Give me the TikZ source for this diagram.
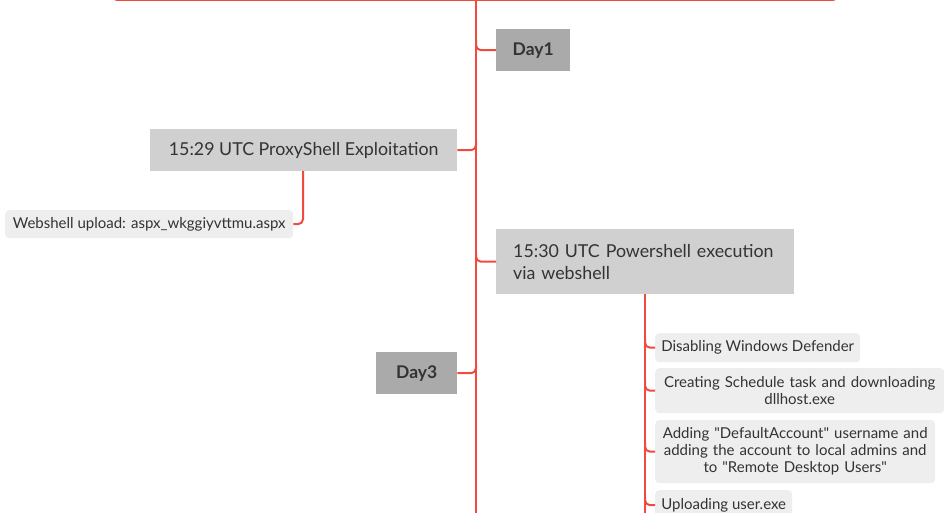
\documentclass[tikz,border=0pt]{standalone}
\usetikzlibrary{calc}
\usepackage{fontspec}
\setmainfont{Lato}[Ligatures=TeXOff]
\definecolor{branch}{HTML}{F04B3C}
\definecolor{dayfill}{HTML}{AAAAAA}
\definecolor{mainfill}{HTML}{D0D0D0}
\definecolor{leaffill}{HTML}{EEEEEE}
\definecolor{txt}{HTML}{333333}
\tikzset{
  conn/.style={draw=branch, line width=2pt, rounded corners=5pt},
  daybox/.style={fill=dayfill, anchor=north west, inner sep=0pt, text=txt, font=\fontsize{17.5}{20}\selectfont\bfseries},
  mainbox/.style={fill=mainfill, anchor=north west, inner sep=0pt, text=txt, font=\fontsize{17.8}{22}\selectfont},
  leafbox/.style={fill=leaffill, rounded corners=4pt, anchor=north west, inner sep=0pt, text=txt, font=\fontsize{15}{17}\selectfont},
}
\begin{document}
\begin{tikzpicture}[x=1pt,y=-1pt]
\useasboundingbox (0,0) rectangle (944,513);
% root line and trunk
\coordinate (rootL) at (112,-12);
\coordinate (rootR) at (838,-12);
\coordinate (top) at (476,0);
\coordinate (bot) at (476,520);
\draw[conn] (rootL) |- (top) -| (rootR);
\draw[conn] (top) -- (bot);
% nodes
\node[daybox, minimum width=74pt, minimum height=42pt] (day1) at (496,29) {Day1};
\node[mainbox, minimum width=307pt, minimum height=42pt] (proxy) at (150,129) {15:29 UTC ProxyShell Exploitation};
\node[leafbox, minimum width=288pt, minimum height=28pt] (webshell) at (5,210) {Webshell upload: aspx\_wkggiyvttmu.aspx};
\node[mainbox, minimum width=298pt, minimum height=65pt, text width=264pt, align=left] (ps) at (496,229) {15:30 UTC Powershell execution\\via webshell};
\node[daybox, minimum width=81pt, minimum height=42pt] (day3) at (376,352) {Day3};
\node[leafbox, minimum width=205pt, minimum height=29pt] (l1) at (655,333) {Disabling Windows Defender};
\node[leafbox, minimum width=289pt, minimum height=45pt, text width=285pt, align=center] (l2) at (655,368) {Creating Schedule task and downloading\\dllhost.exe};
\node[leafbox, minimum width=280pt, minimum height=63pt, text width=276pt, align=center] (l3) at (655,420) {Adding "DefaultAccount" username and\\adding the account to local admins and\\to "Remote Desktop Users"};
\node[leafbox, minimum width=137pt, minimum height=30pt] (l4) at (655,490) {Uploading user.exe};
% connectors from trunk
\draw[conn] (day1.west) -| ($(day1.west -| top)+(0,-10)$);
\draw[conn] (proxy.east) -| ($(proxy.east -| top)+(0,-10)$);
\draw[conn] (ps.west) -| ($(ps.west -| top)+(0,-10)$);
\draw[conn] (day3.east) -| ($(day3.east -| top)+(0,-10)$);
\coordinate (wsup) at (303,171);
\draw[conn] (webshell.east) -| (wsup);
% sub-branch
\coordinate (subtop) at (645,294);
\coordinate (subbot) at (645,520);
\draw[conn] (subtop) -- (subbot);
\foreach \n in {l1,l2,l3,l4}{
  \draw[conn] (\n.west) -| ($(\n.west -| subtop)+(0,-10)$);
}
\end{tikzpicture}
\end{document}
